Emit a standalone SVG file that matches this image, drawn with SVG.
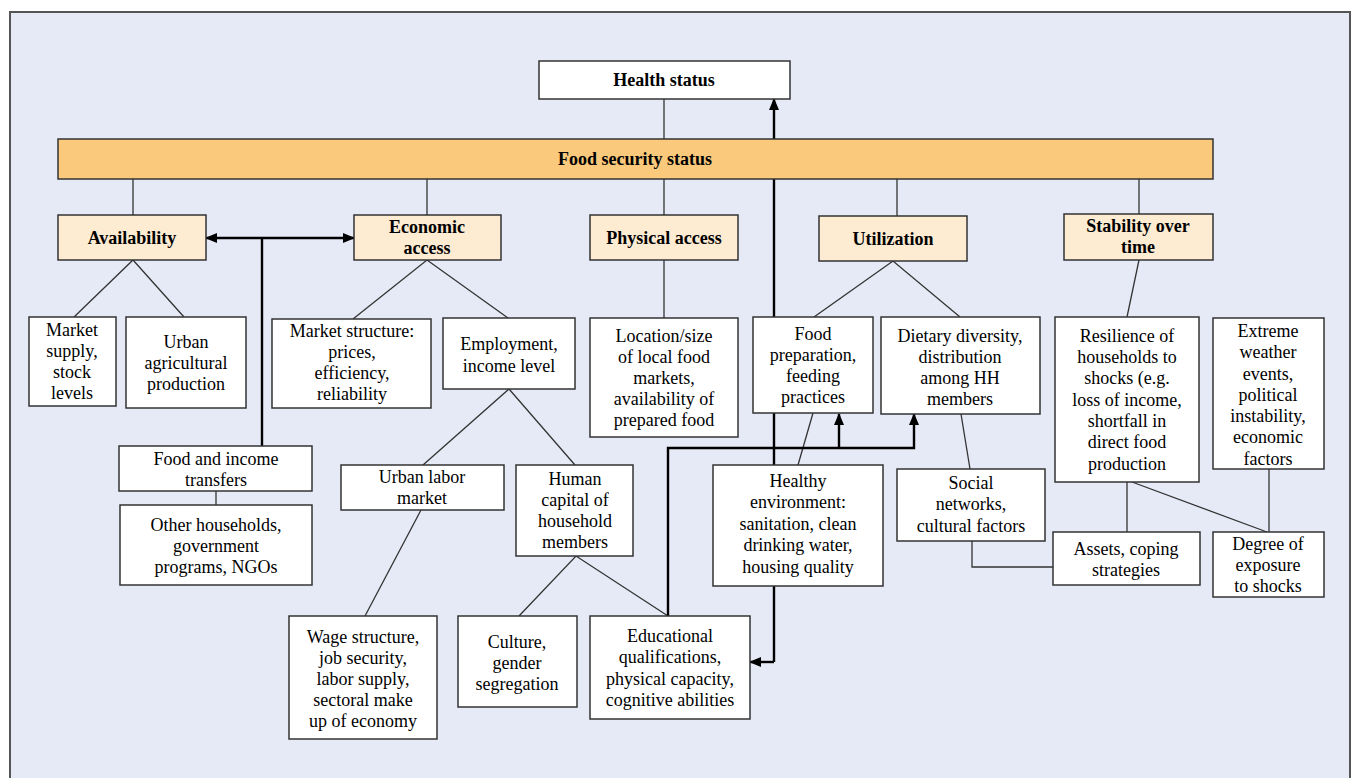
<svg xmlns="http://www.w3.org/2000/svg" width="1354" height="778" viewBox="0 0 1354 778">
<defs>
<marker id="ah" viewBox="0 0 12 10" refX="11" refY="5" markerWidth="12" markerHeight="10" markerUnits="userSpaceOnUse" orient="auto-start-reverse">
<path d="M0,0 L12,5 L0,10 Z" fill="#000"/>
</marker>
</defs>
<style>
.bx{fill:#fff;stroke:#333;stroke-width:1.5}
.dim{fill:#FDEBD2;stroke:#333;stroke-width:1.5}
.bar{fill:#FAC97B;stroke:#333;stroke-width:1.5}
.ln{stroke:#333;stroke-width:1.3;fill:none}
.tk{stroke:#000;stroke-width:2.4;fill:none}
text{font-family:"Liberation Serif","Times New Roman",serif;font-size:18px;fill:#000;text-anchor:middle}
.b{font-weight:bold}
</style>
<rect x="10" y="12" width="1340" height="790" fill="#E6EAF6" stroke="#555" stroke-width="2"/>

<g id="connectors">
<path class="ln" d="M664,99 V139"/>
<path class="ln" d="M133,179 V215 M427,179 V215 M664,179 V215 M897,179 V216 M1139,179 V214"/>
<path class="ln" d="M74,317 L133,260 L184,317"/>
<path class="ln" d="M353,319 L427,260 L508,318"/>
<path class="ln" d="M664,260 V318"/>
<path class="ln" d="M814,317 L893,261 L960,317"/>
<path class="ln" d="M1139,260 L1127,317"/>
<path class="ln" d="M216,491 V505"/>
<path class="ln" d="M423,465 L509,389 L575,465"/>
<path class="ln" d="M421,510 L365,616"/>
<path class="ln" d="M519,616 L576,556 L668,616"/>
<path class="ln" d="M813,413 L798,465"/>
<path class="ln" d="M961,414 L970,469"/>
<path class="ln" d="M972,541 V567 H1053"/>
<path class="ln" d="M1127,482 V532 M1132,482 L1267,532"/>
<path class="ln" d="M1269,469 V532"/>
<path class="tk" d="M206,238 H354" marker-start="url(#ah)" marker-end="url(#ah)"/>
<path class="tk" d="M262,238 V446"/>
<path class="tk" d="M774,662 V99" marker-end="url(#ah)"/>
<path class="tk" d="M774,662 H750" marker-end="url(#ah)"/>
<path class="tk" d="M668,616 V448 H914 V414" marker-end="url(#ah)"/>
<path class="tk" d="M839,448 V414" marker-end="url(#ah)"/>
</g>

<g id="nodes">
<g id="health"><rect class="bx" x="539" y="61" width="251" height="38"/><text class="b" x="664" y="86">Health status</text></g>
<g id="foodsec"><rect class="bar" x="58" y="139" width="1155" height="40"/><text class="b" x="635" y="165">Food security status</text></g>
<g id="availability"><rect class="dim" x="58" y="215" width="148" height="45"/><text class="b" x="132" y="244">Availability</text></g>
<g id="economic"><rect class="dim" x="354" y="215" width="147" height="45"/><text class="b" x="427" y="233">Economic</text><text class="b" x="427" y="254">access</text></g>
<g id="physical"><rect class="dim" x="590" y="215" width="148" height="45"/><text class="b" x="664" y="244">Physical access</text></g>
<g id="utilization"><rect class="dim" x="819" y="216" width="148" height="45"/><text class="b" x="893" y="245">Utilization</text></g>
<g id="stability"><rect class="dim" x="1064" y="214" width="149" height="46"/><text class="b" x="1138" y="232">Stability over</text><text class="b" x="1138" y="253">time</text></g>

<g id="marketsupply"><rect class="bx" x="29" y="317" width="87" height="89"/><text x="72" y="336">Market</text><text x="72" y="357">supply,</text><text x="72" y="378">stock</text><text x="72" y="399">levels</text></g>
<g id="urbanagri"><rect class="bx" x="126" y="317" width="120" height="91"/><text x="186" y="348">Urban</text><text x="186" y="369">agricultural</text><text x="186" y="390">production</text></g>
<g id="marketstructure"><rect class="bx" x="272" y="319" width="159" height="89"/><text x="352" y="337">Market structure:</text><text x="352" y="358">prices,</text><text x="352" y="379">efficiency,</text><text x="352" y="400">reliability</text></g>
<g id="employment"><rect class="bx" x="443" y="318" width="132" height="71"/><text x="509" y="350">Employment,</text><text x="509" y="372">income level</text></g>
<g id="location"><rect class="bx" x="590" y="318" width="148" height="119"/><text x="664" y="342">Location/size</text><text x="664" y="363">of local food</text><text x="664" y="384">markets,</text><text x="664" y="405">availability of</text><text x="664" y="426">prepared food</text></g>
<g id="foodprep"><rect class="bx" x="753" y="317" width="120" height="96"/><text x="813" y="340">Food</text><text x="813" y="361">preparation,</text><text x="813" y="382">feeding</text><text x="813" y="403">practices</text></g>
<g id="dietary"><rect class="bx" x="881" y="317" width="159" height="97"/><text x="960" y="342">Dietary diversity,</text><text x="960" y="363">distribution</text><text x="960" y="384">among HH</text><text x="960" y="405">members</text></g>
<g id="resilience"><rect class="bx" x="1055" y="317" width="144" height="165"/><text x="1127" y="342">Resilience of</text><text x="1127" y="363">households to</text><text x="1127" y="384">shocks (e.g.</text><text x="1127" y="406">loss of income,</text><text x="1127" y="427">shortfall in</text><text x="1127" y="448">direct food</text><text x="1127" y="470">production</text></g>
<g id="extreme"><rect class="bx" x="1213" y="318" width="111" height="151"/><text x="1268" y="337">Extreme</text><text x="1268" y="358">weather</text><text x="1268" y="380">events,</text><text x="1268" y="401">political</text><text x="1268" y="422">instability,</text><text x="1268" y="443">economic</text><text x="1268" y="465">factors</text></g>

<g id="transfers"><rect class="bx" x="119" y="446" width="193" height="45"/><text x="216" y="465">Food and income</text><text x="216" y="486">transfers</text></g>
<g id="otherhh"><rect class="bx" x="120" y="505" width="192" height="80"/><text x="216" y="531">Other households,</text><text x="216" y="552">government</text><text x="216" y="573">programs, NGOs</text></g>
<g id="urbanlabor"><rect class="bx" x="341" y="465" width="163" height="45"/><text x="422" y="483">Urban labor</text><text x="422" y="504">market</text></g>
<g id="humancapital"><rect class="bx" x="516" y="465" width="117" height="91"/><text x="575" y="485">Human</text><text x="575" y="506">capital of</text><text x="575" y="527">household</text><text x="575" y="548">members</text></g>
<g id="healthyenv"><rect class="bx" x="713" y="465" width="170" height="121"/><text x="798" y="487">Healthy</text><text x="798" y="508">environment:</text><text x="798" y="530">sanitation, clean</text><text x="798" y="551">drinking water,</text><text x="798" y="573">housing quality</text></g>
<g id="social"><rect class="bx" x="897" y="469" width="148" height="72"/><text x="971" y="489">Social</text><text x="971" y="510">networks,</text><text x="971" y="532">cultural factors</text></g>
<g id="assets"><rect class="bx" x="1053" y="532" width="147" height="53"/><text x="1126" y="555">Assets, coping</text><text x="1126" y="576">strategies</text></g>
<g id="degree"><rect class="bx" x="1213" y="532" width="111" height="65"/><text x="1268" y="550">Degree of</text><text x="1268" y="571">exposure</text><text x="1268" y="592">to shocks</text></g>

<g id="wage"><rect class="bx" x="289" y="616" width="148" height="123"/><text x="363" y="643">Wage structure,</text><text x="363" y="664">job security,</text><text x="363" y="685">labor supply,</text><text x="363" y="706">sectoral make</text><text x="363" y="727">up of economy</text></g>
<g id="culture"><rect class="bx" x="458" y="616" width="119" height="91"/><text x="517" y="648">Culture,</text><text x="517" y="669">gender</text><text x="517" y="690">segregation</text></g>
<g id="educ"><rect class="bx" x="590" y="616" width="160" height="103"/><text x="670" y="642">Educational</text><text x="670" y="663">qualifications,</text><text x="670" y="685">physical capacity,</text><text x="670" y="706">cognitive abilities</text></g>
</g>
</svg>
